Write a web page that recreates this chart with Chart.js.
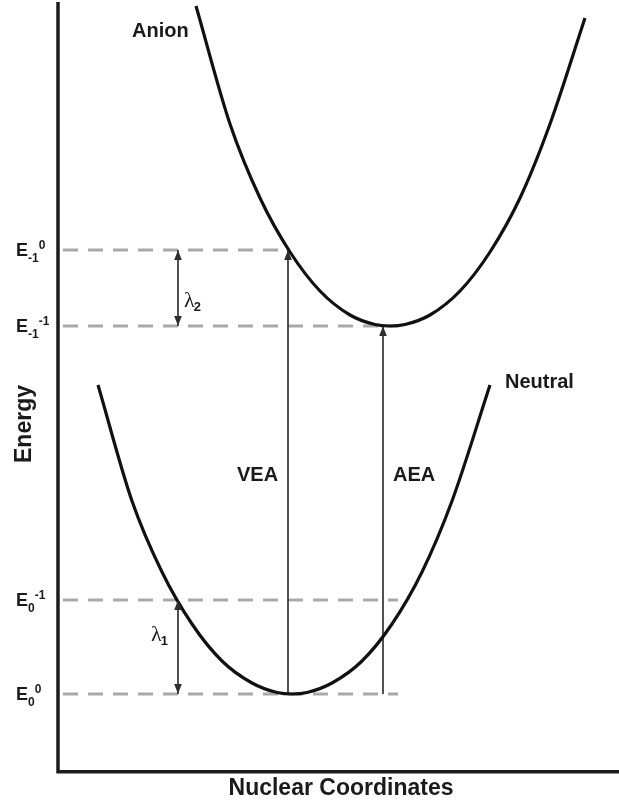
<!DOCTYPE html>
<html>
<head>
<meta charset="utf-8">
<script src="https://cdn.jsdelivr.net/npm/chart.js@4.4.1/dist/chart.umd.min.js"></script>
<style>
  html, body { margin: 0; padding: 0; background: #ffffff; }
  #wrap { width: 619px; height: 804px; position: relative; }
</style>
</head>
<body>
<div id="wrap"><canvas id="c"></canvas></div>
<script>
// Potential energy curves (nuclear coordinate vs energy, arbitrary units)
const anionX   = [138, 172, 202, 232, 262, 292, 317, 332, 347, 372, 402, 432, 462, 492, 527];
const anionE   = [764, 646, 572, 518, 479, 455, 445.5, 444, 445.5, 455, 479, 518, 572, 646, 752];
const neutralX = [40, 74, 104, 134, 164, 194, 219, 234, 249, 274, 304, 334, 364, 394, 432];
const neutralE = [385, 269, 198, 146, 109, 87, 77.5, 76, 77.5, 87, 109, 146, 198, 269, 385];

// Energy levels (dashed guides)
const levelE      = [520, 444, 170, 76];
const levelStartX = [5, 5, 5, 5];
const levelEndX   = [232, 340, 340, 340];
const levelBase   = ['E', 'E', 'E', 'E'];
const levelSub    = ['-1', '-1', '0', '0'];
const levelSup    = ['0', '-1', '-1', '0'];

// Transitions: λ2, λ1, VEA, AEA
const arrowX     = [120, 120, 230, 325];
const arrowFrom  = [444, 76, 76, 76];
const arrowTo    = [520, 170, 520, 444];
const arrowBoth  = [true, true, false, false];

// Text annotations
const curveLabels = ['Anion', 'Neutral'];
const curveLabelX = [74, 447];
const curveLabelE = [733, 382];
const transLabels = ['VEA', 'AEA'];
const transLabelX = [179, 335];
const transLabelE = [289, 289];
const lambdaSubs  = ['2', '1'];
const lambdaX     = [126, 93];
const lambdaE     = [470, 136];

const xTitle = 'Nuclear Coordinates';
const yTitle = 'Energy';

const FONT = '"Liberation Sans", Arial, Helvetica, sans-serif';
const SERIF = '"Liberation Serif", "Times New Roman", serif';

const toPts = (xs, ys) => xs.map((x, i) => ({ x: x, y: ys[i] }));

const datasets = [];
datasets.push({
  label: 'Anion', data: toPts(anionX, anionE),
  borderColor: '#111111', borderWidth: 3.2, pointRadius: 0,
  cubicInterpolationMode: 'monotone', showLine: true, clip: false
});
datasets.push({
  label: 'Neutral', data: toPts(neutralX, neutralE),
  borderColor: '#111111', borderWidth: 3.2, pointRadius: 0,
  cubicInterpolationMode: 'monotone', showLine: true, clip: false
});
levelE.forEach((e, i) => {
  datasets.push({
    label: 'level' + i,
    data: [{ x: levelStartX[i], y: e }, { x: levelEndX[i], y: e }],
    borderColor: '#a9a9a9', borderWidth: 3, borderDash: [15, 10],
    pointRadius: 0, showLine: true, clip: false, order: 5
  });
});
arrowX.forEach((x, i) => {
  datasets.push({
    label: 'arrow' + i,
    data: [{ x: x, y: arrowFrom[i] }, { x: x, y: arrowTo[i] }],
    borderColor: '#333333', borderWidth: 1.7,
    pointRadius: 0, showLine: true, clip: false, order: 1
  });
});

// Arrow heads, axes and annotations drawn on top of the datasets
const decor = {
  id: 'decor',
  afterDatasetsDraw(chart) {
    const ctx = chart.ctx;
    const xs = chart.scales.x, ys = chart.scales.y;
    const ca = chart.chartArea;
    ctx.save();

    // arrow heads
    const head = (px, py, dir) => {
      const L = 10, W = 3.8;
      ctx.beginPath();
      ctx.moveTo(px, py);
      ctx.lineTo(px - W, py - dir * L);
      ctx.lineTo(px + W, py - dir * L);
      ctx.closePath();
      ctx.fillStyle = '#2e2e2e';
      ctx.fill();
    };
    arrowX.forEach((x, i) => {
      const px = xs.getPixelForValue(x);
      const pTop = ys.getPixelForValue(arrowTo[i]);
      const pBot = ys.getPixelForValue(arrowFrom[i]);
      head(px, pTop, -1);
      if (arrowBoth[i]) head(px, pBot, 1);
    });

    // axes
    ctx.strokeStyle = '#1c1c1c';
    ctx.lineWidth = 3.5;
    ctx.lineCap = 'butt';
    ctx.beginPath();
    ctx.moveTo(ca.left, 2);
    ctx.lineTo(ca.left, ca.bottom + 1.75);
    ctx.lineTo(ca.right, ca.bottom + 1.75);
    ctx.stroke();

    ctx.fillStyle = '#1a1a1a';
    ctx.textBaseline = 'alphabetic';
    ctx.textAlign = 'left';

    // curve and transition labels
    ctx.font = 'bold 20px ' + FONT;
    curveLabels.forEach((t, i) => {
      ctx.fillText(t, xs.getPixelForValue(curveLabelX[i]), ys.getPixelForValue(curveLabelE[i]));
    });
    transLabels.forEach((t, i) => {
      ctx.fillText(t, xs.getPixelForValue(transLabelX[i]), ys.getPixelForValue(transLabelE[i]));
    });

    // reorganisation energies
    lambdaSubs.forEach((s, i) => {
      const px = xs.getPixelForValue(lambdaX[i]);
      const py = ys.getPixelForValue(lambdaE[i]);
      ctx.font = '22px ' + SERIF;
      ctx.fillText('\u03bb', px, py + 7);
      const w = ctx.measureText('\u03bb').width;
      ctx.font = 'bold 13px ' + FONT;
      ctx.fillText(s, px + w - 1, py + 11);
    });

    // level labels
    levelE.forEach((e, i) => {
      const py = ys.getPixelForValue(e);
      let px = 16;
      ctx.font = 'bold 18px ' + FONT;
      ctx.fillText(levelBase[i], px, py + 6);
      px += ctx.measureText(levelBase[i]).width;
      ctx.font = 'bold 12px ' + FONT;
      ctx.fillText(levelSub[i], px, py + 12);
      px += ctx.measureText(levelSub[i]).width;
      ctx.fillText(levelSup[i], px, py - 1);
    });

    // axis titles
    ctx.font = 'bold 23px ' + FONT;
    ctx.textAlign = 'center';
    ctx.fillText(xTitle, 341, 795);
    ctx.save();
    ctx.translate(31, 424);
    ctx.rotate(-Math.PI / 2);
    ctx.fillText(yTitle, 0, 0);
    ctx.restore();

    ctx.restore();
  }
};

new Chart(document.getElementById('c'), {
  type: 'scatter',
  data: { datasets: datasets },
  options: {
    responsive: true,
    maintainAspectRatio: false,
    animation: false,
    events: [],
    layout: { padding: { left: 58, right: 0, top: 0, bottom: 34 } },
    plugins: { legend: { display: false }, tooltip: { enabled: false } },
    scales: {
      x: { type: 'linear', display: false, min: 0, max: 561 },
      y: { type: 'linear', display: false, min: 0, max: 770 }
    }
  },
  plugins: [decor]
});
</script>
</body>
</html>
